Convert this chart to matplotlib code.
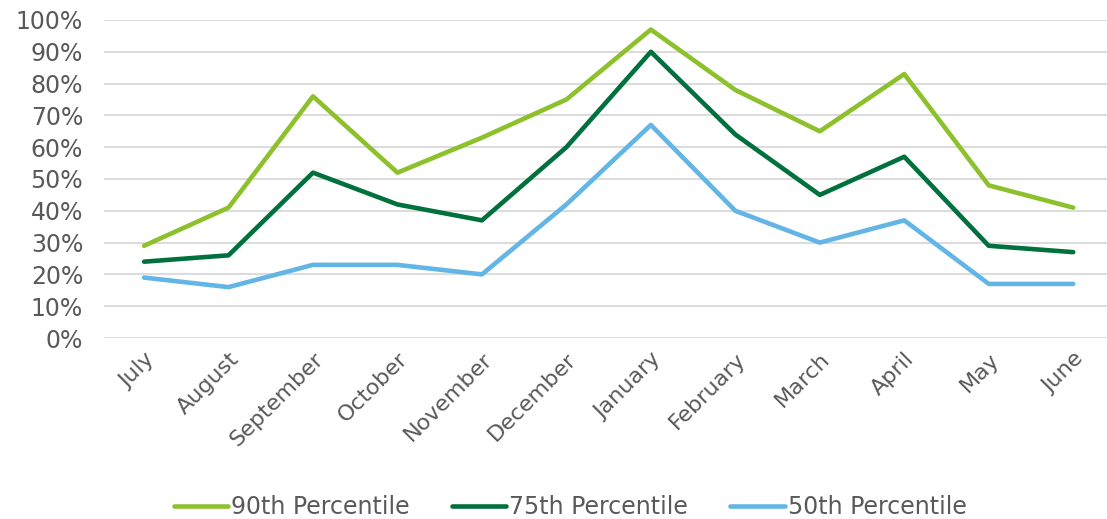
import matplotlib.pyplot as plt
from matplotlib.ticker import PercentFormatter

months = ['July', 'August', 'September', 'October', 'November', 'December',
          'January', 'February', 'March', 'April', 'May', 'June']
p90 = [29, 41, 76, 52, 63, 75, 97, 78, 65, 83, 48, 41]
p75 = [24, 26, 52, 42, 37, 60, 90, 64, 45, 57, 29, 27]
p50 = [19, 16, 23, 23, 20, 42, 67, 40, 30, 37, 17, 17]

plt.rcParams['font.family'] = ['DejaVu Sans']
txt = '#595959'

fig = plt.figure(figsize=(11.07, 5.19), dpi=100)
ax = fig.add_axes([104/1107, 181/519, 1003/1107, 318/519])

x = list(range(len(months)))
ax.plot(x, p90, color='#8cc12b', lw=3.3, solid_capstyle='round', label='90th Percentile')
ax.plot(x, p75, color='#00703c', lw=3.3, solid_capstyle='round', label='75th Percentile')
ax.plot(x, p50, color='#62b5e5', lw=3.3, solid_capstyle='round', label='50th Percentile')

ax.set_ylim(0, 100)
ax.set_xlim(-0.474, 11.40)
ax.set_yticks(range(0, 101, 10))
ax.yaxis.set_major_formatter(PercentFormatter(decimals=0))
ax.set_xticks(x)
ax.set_xticklabels(months, rotation=45, ha='right', rotation_mode='anchor')
ax.tick_params(length=0, labelsize=17, labelcolor=txt)
ax.tick_params(axis='y', pad=15)
ax.tick_params(axis='x', labelsize=16, pad=8)
ax.grid(axis='y', color='#d9d9d9', lw=1.3)
ax.set_axisbelow(True)
for s in ax.spines.values():
    s.set_visible(False)

fig.legend(loc='center', bbox_to_anchor=(0.515, 0.023), ncol=3, frameon=False,
           fontsize=17, labelcolor=txt, handlelength=2.3, handletextpad=0.12,
           columnspacing=1.8)

fig.savefig('out.png', dpi=100)
